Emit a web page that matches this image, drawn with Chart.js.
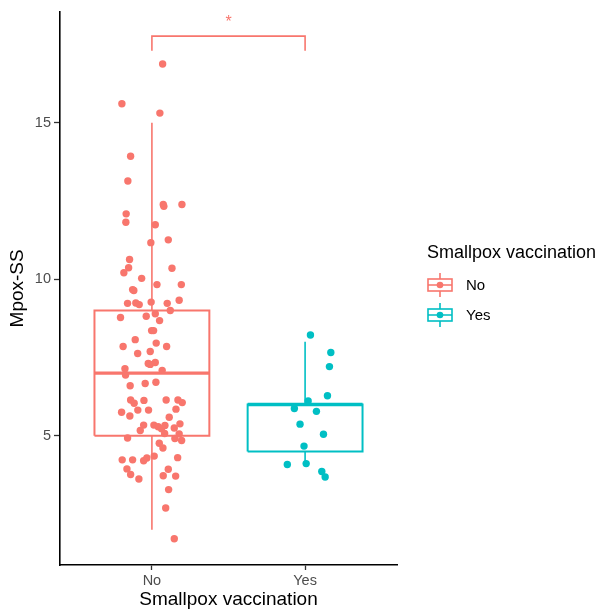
<!DOCTYPE html>
<html><head><meta charset="utf-8">
<script src="https://cdn.jsdelivr.net/npm/chart.js@4"></script>
<style>html,body{margin:0;padding:0;background:#fff;} #wrap{width:604px;height:609px;position:relative}</style>
</head><body><div id="wrap"><canvas id="c" width="604" height="609"></canvas></div>
<script>
const categories = ['No', 'Yes'];
const seriesColors = ['#F8766D', '#00BFC4'];
const whiskerLow = [2, 4.1];
const quartile1 = [5, 4.5];
const medians = [7, 6];
const quartile3 = [9, 6];
const whiskerHigh = [15, 8];
const noScores = [16.88,15.61,15.31,13.93,13.14,12.39,12.33,12.39,12.09,11.82,11.74,11.26,11.17,10.63,10.37,10.21,10.35,10.03,9.67,9.64,9.83,9.83,9.23,9.24,9.19,9.27,9.23,9.33,8.78,8.82,8.9,8.68,9.0,8.36,8.36,8.07,7.85,7.96,7.85,7.63,7.69,7.31,7.28,7.34,7.14,6.94,7.09,6.6,6.67,6.71,6.14,6.13,6.14,6.14,6.04,6.06,5.82,5.75,5.63,5.82,5.85,5.59,5.34,5.17,5.34,5.29,5.22,5.33,5.38,5.25,5.07,5.06,4.91,4.85,4.93,4.76,4.61,4.35,4.29,4.2,4.3,4.23,4.23,3.94,3.76,3.62,3.93,3.72,3.71,3.28,2.69,1.71];
const noJitter = [0.07,-0.196,0.052,-0.139,-0.157,0.074,0.078,0.196,-0.168,-0.17,0.022,0.107,-0.007,-0.146,-0.152,-0.183,0.131,-0.067,-0.126,-0.118,0.033,0.192,-0.159,-0.105,-0.083,-0.005,0.1,0.178,-0.205,-0.037,0.022,0.05,0.12,-0.002,0.011,-0.109,-0.188,0.028,0.096,-0.093,-0.011,-0.024,-0.011,0.022,-0.176,-0.172,0.067,-0.142,-0.044,0.026,-0.139,-0.052,0.093,0.17,-0.116,0.198,-0.092,-0.198,-0.144,-0.022,0.157,0.113,-0.054,-0.076,0.013,0.041,0.063,0.085,0.183,0.146,0.083,0.178,0.15,0.194,-0.159,0.048,0.072,0.015,-0.033,-0.054,0.168,-0.194,-0.126,-0.163,-0.139,-0.085,0.107,0.074,0.155,0.109,0.09,0.146];
const yesScores = [8.22,7.66,7.21,6.28,6.11,5.87,5.78,5.37,5.05,4.67,4.08,4.11,3.86,3.68];
const yesJitter = [0.035,0.168,0.159,0.146,0.02,-0.07,0.074,-0.033,0.12,-0.007,-0.116,0.007,0.109,0.131];
const yTicks = [5, 10, 15];
const bracketY = 17.77;
const bracketTipY = 17.3;
const bracketLabel = '*';
const legendTitle = 'Smallpox vaccination';
const xTitle = 'Smallpox vaccination';
const yTitle = 'Mpox-SS';

const FONT = '"Liberation Sans", Arial, Helvetica, sans-serif';
Chart.defaults.font.family = FONT;
const HALF = 0.375;

function lineDs(points, color, width, order) {
  return { type: 'scatter', data: points, showLine: true, borderColor: color, borderWidth: width,
           pointRadius: 0, pointHoverRadius: 0, fill: false, tension: 0, order: order,
           borderJoinStyle: 'miter', borderCapStyle: 'butt' };
}

const datasets = [];
const groups = [[noScores, noJitter], [yesScores, yesJitter]];
groups.forEach((g, i) => {
  datasets.push({ type: 'scatter', data: g[0].map((v, k) => ({ x: i + 1 + g[1][k], y: v })),
    backgroundColor: seriesColors[i], borderWidth: 0, pointRadius: 3.7, pointHoverRadius: 3.7, order: 0 });
});
categories.forEach((c, i) => {
  const x = i + 1, col = seriesColors[i];
  datasets.push(lineDs([{x:x-HALF,y:quartile1[i]},{x:x+HALF,y:quartile1[i]},{x:x+HALF,y:quartile3[i]},{x:x-HALF,y:quartile3[i]},{x:x-HALF,y:quartile1[i]}], col, 2, 2));
  datasets.push(lineDs([{x:x-HALF,y:medians[i]},{x:x+HALF,y:medians[i]}], col, 3.4, 1));
  datasets.push(lineDs([{x:x,y:quartile3[i]},{x:x,y:whiskerHigh[i]}], col, 1.6, 2));
  datasets.push(lineDs([{x:x,y:quartile1[i]},{x:x,y:whiskerLow[i]}], col, 1.6, 2));
});
datasets.push(lineDs([{x:1,y:bracketTipY},{x:1,y:bracketY},{x:2,y:bracketY},{x:2,y:bracketTipY}], seriesColors[0], 1.6, 1));

const extras = {
  id: 'extras',
  afterDraw(chart) {
    const ctx = chart.ctx, xs = chart.scales.x, ys = chart.scales.y;
    ctx.save();
    // significance label
    ctx.fillStyle = seriesColors[0];
    ctx.font = '16px ' + FONT;
    ctx.textAlign = 'center';
    ctx.textBaseline = 'alphabetic';
    ctx.fillText(bracketLabel, xs.getPixelForValue(1.5), ys.getPixelForValue(bracketY) - 9);
    // legend
    ctx.fillStyle = '#000';
    ctx.textAlign = 'left';
    ctx.font = '18px ' + FONT;
    ctx.fillText(legendTitle, 427, 258);
    categories.forEach((c, i) => {
      const cy = 285 + i * 30, cx = 440, col = seriesColors[i];
      ctx.strokeStyle = col; ctx.lineWidth = 1.6;
      ctx.beginPath();
      ctx.moveTo(cx, cy - 12); ctx.lineTo(cx, cy - 6);
      ctx.moveTo(cx, cy + 6); ctx.lineTo(cx, cy + 12);
      ctx.moveTo(428, cy); ctx.lineTo(452, cy);
      ctx.stroke();
      ctx.strokeRect(428, cy - 6, 24, 12);
      ctx.fillStyle = col;
      ctx.beginPath(); ctx.arc(cx, cy, 3.3, 0, Math.PI * 2); ctx.fill();
      ctx.fillStyle = '#000';
      ctx.font = '15px ' + FONT;
      ctx.textBaseline = 'middle';
      ctx.fillText(c, 466, cy + 1);
      ctx.textBaseline = 'alphabetic';
    });
    ctx.restore();
  }
};

new Chart(document.getElementById('c'), {
  type: 'scatter',
  data: { datasets },
  options: {
    responsive: false, animation: false, events: [],
    layout: { padding: { left: 0, top: 9, right: 207, bottom: 0 } },
    plugins: { legend: { display: false }, tooltip: { enabled: false } },
    scales: {
      x: {
        type: 'linear', min: 0.4, max: 2.6,
        afterBuildTicks: s => { s.ticks = categories.map((c, i) => ({ value: i + 1 })); },
        afterFit: s => { s.height = 44; },
        ticks: { callback: v => categories[Math.round(v) - 1] || '', color: '#4D4D4D', font: { size: 14.5 }, padding: 2, maxRotation: 0, autoSkip: false },
        grid: { display: true, drawOnChartArea: false, drawTicks: true, tickLength: 5, tickColor: '#333', tickWidth: 1.3 },
        border: { display: true, color: '#000', width: 1.6 },
        title: { display: true, text: xTitle, color: '#000', font: { size: 19, lineHeight: 1 }, padding: { top: 0, bottom: 0 } }
      },
      y: {
        type: 'linear', min: 0.87, max: 18.55,
        afterBuildTicks: s => { s.ticks = yTicks.map(v => ({ value: v })); },
        afterFit: s => { s.width = 60; },
        ticks: { color: '#4D4D4D', font: { size: 14.5 }, padding: 3, autoSkip: false },
        grid: { display: true, drawOnChartArea: false, drawTicks: true, tickLength: 6, tickColor: '#333', tickWidth: 1.3 },
        border: { display: true, color: '#000', width: 1.6 },
        title: { display: true, text: yTitle, color: '#000', font: { size: 19, lineHeight: 1.2 }, padding: { top: 6, bottom: 0 } }
      }
    }
  },
  plugins: [extras]
});
</script></body></html>
